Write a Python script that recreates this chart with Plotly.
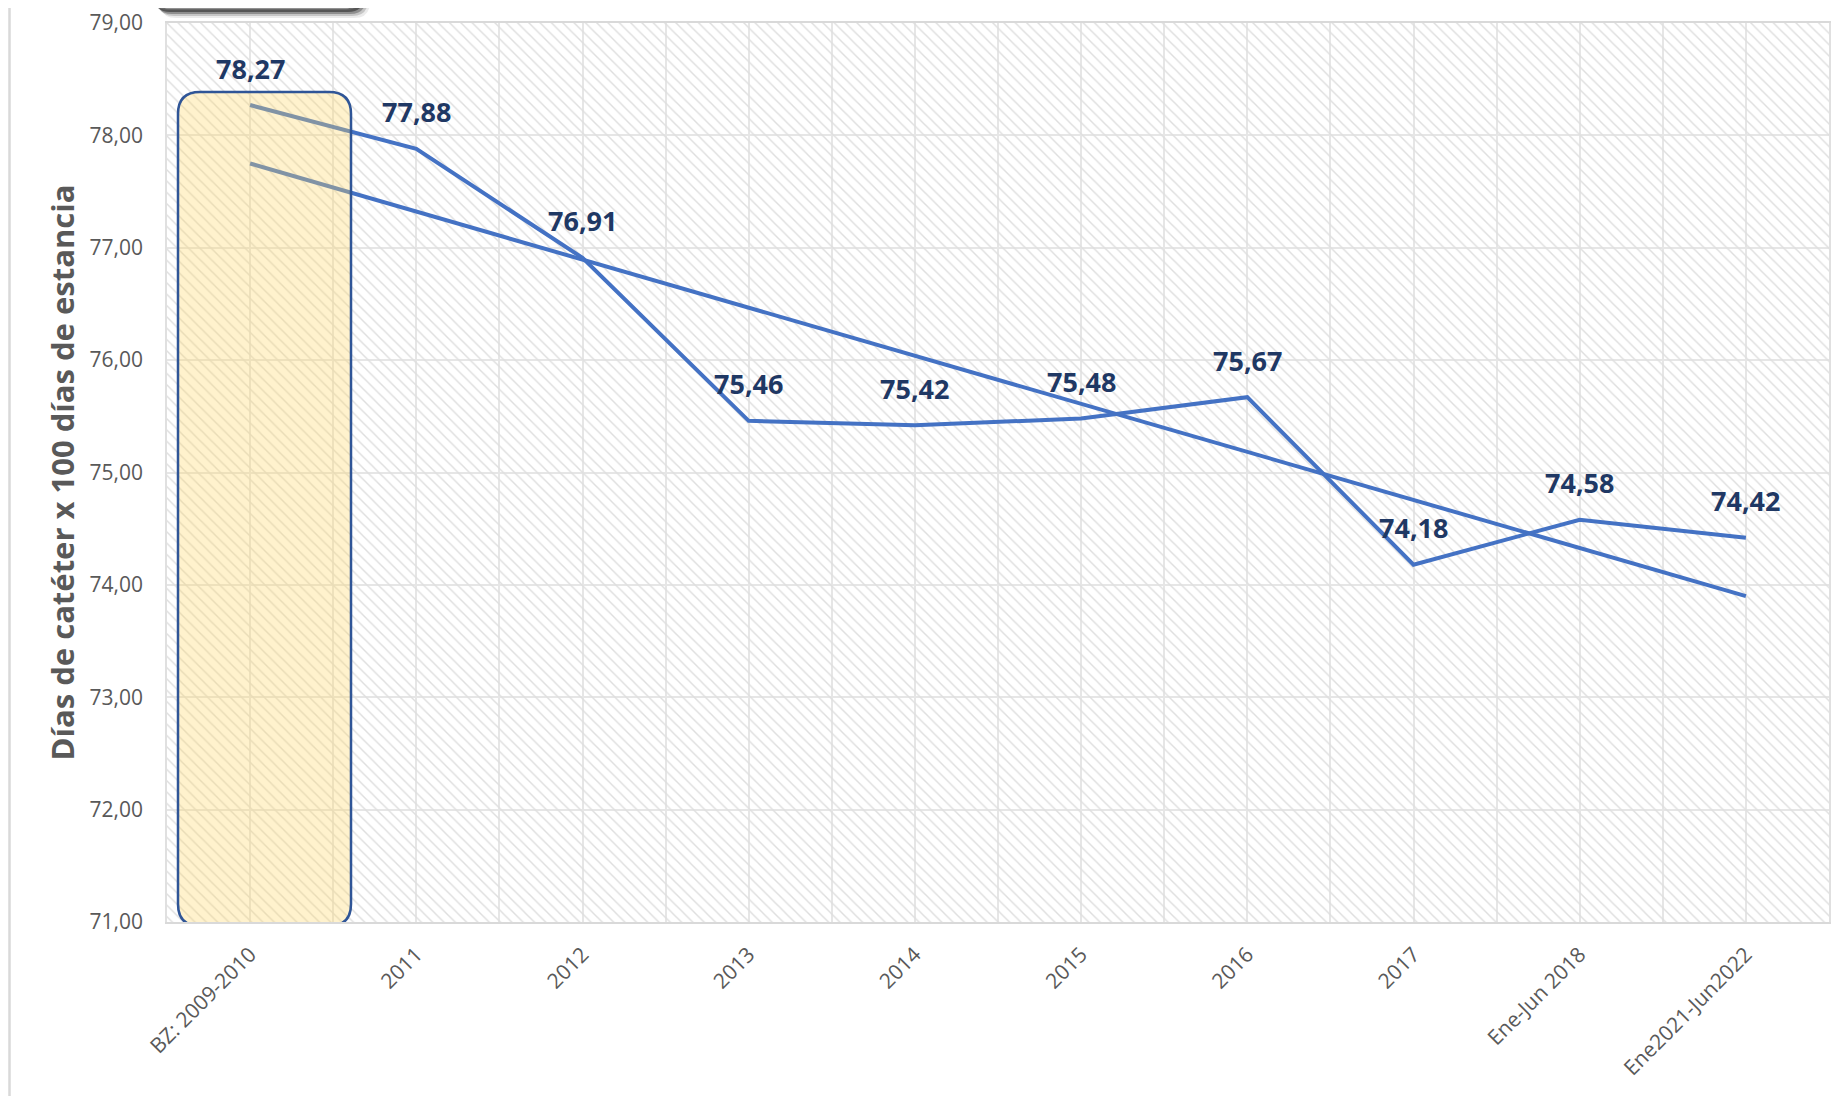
import plotly.graph_objects as go

# ---------------- data ----------------
categories = ["BZ: 2009-2010", "2011", "2012", "2013", "2014", "2015", "2016",
              "2017", "Ene-Jun 2018", "Ene2021-Jun2022"]
values = [78.27, 77.88, 76.91, 75.46, 75.42, 75.48, 75.67, 74.18, 74.58, 74.42]
# linear trend line (first and last category)
trend_idx = [0, 9]
trend_values = [77.75, 73.90]
y_ticks = [71, 72, 73, 74, 75, 76, 77, 78, 79]
y_title = "Días de catéter x 100 días de estancia"

# ---------------- layout geometry ----------------
OFF = 8                      # page body margin
W, H = 1845 - OFF, 1096 - OFF
ML, MR, MT, MB = 167 - OFF, 16, 23 - OFF, 174
PW, PH = W - ML - MR, H - MT - MB

def px_x(px):               # screen pixel -> paper x
    return (px - OFF - ML) / PW

def px_y(py):               # screen pixel -> paper y
    return (H - MB - (py - OFF)) / PH

idx = list(range(len(categories)))
BLUE = "#4472C4"
GREY_TXT = "#595959"
NAVY = "#1F3864"
FONT = "Open Sans"

fig = go.Figure()

# hatched plot background
fig.add_trace(go.Bar(
    x=[(idx[0] + idx[-1]) / 2], y=[y_ticks[-1] - y_ticks[0]], base=[y_ticks[0]],
    width=[len(idx)],
    marker=dict(color="rgba(0,0,0,0)", line=dict(width=0),
                pattern=dict(shape="\\", size=8, solidity=0.18,
                             fgcolor="#DEDEDE", bgcolor="rgba(0,0,0,0)",
                             fillmode="replace")),
    hoverinfo="skip", showlegend=False))

# trend line
fig.add_trace(go.Scatter(x=trend_idx, y=trend_values, mode="lines",
                         line=dict(color=BLUE, width=4), showlegend=False,
                         hoverinfo="skip"))
# main series
fig.add_trace(go.Scatter(x=idx, y=values, mode="lines",
                         line=dict(color=BLUE, width=4), showlegend=False))

# data labels
for i, v in zip(idx, values):
    fig.add_annotation(x=i, y=v, text=f"{v:.2f}".replace(".", ","),
                       showarrow=False, yshift=37, yanchor="middle",
                       font=dict(family=FONT, size=27, color=NAVY, weight="bold"))

# rounded rectangle helper
def rounded(x0, x1, y0, y1, rx, ry):
    return (f"M {x0+rx},{y0} L {x1-rx},{y0} Q {x1},{y0} {x1},{y0+ry} "
            f"L {x1},{y1-ry} Q {x1},{y1} {x1-rx},{y1} "
            f"L {x0+rx},{y1} Q {x0},{y1} {x0},{y1-ry} "
            f"L {x0},{y0+ry} Q {x0},{y0} {x0+rx},{y0} Z")

cat_w = PW / len(idx)
unit_h = PH / (y_ticks[-1] - y_ticks[0])
# highlight box around the baseline category (screen px 178..351 x 92..926)
bx0 = -0.5 + (178 - 167) / cat_w
bx1 = -0.5 + (351 - 167) / cat_w
by0 = y_ticks[0] - (926 - 922) / unit_h
by1 = y_ticks[-1] - (92 - 23) / unit_h
fig.add_shape(type="path", xref="x", yref="y",
              path=rounded(bx0, bx1, by0, by1, 22 / cat_w, 22 / unit_h),
              fillcolor="rgba(255,217,102,0.33)",
              line=dict(color="#2F5597", width=2.5), layer="above")

# top-left cut-off title box with shadow (paper coordinates)
def rounded_paper(px0, px1, py0, py1, r):
    x0, x1 = px_x(px0), px_x(px1)
    y0, y1 = px_y(py1), px_y(py0)
    return rounded(x0, x1, y0, y1, r / PW, r / PH)

for dx, dy, a in [(8, 9, 0.08), (6, 7, 0.16), (4, 5, 0.28), (2, 3, 0.4)]:
    fig.add_shape(type="path", xref="paper", yref="paper",
                  path=rounded_paper(152 + dx, 362 + dx, -60 + dy, 9 + dy, 16),
                  fillcolor=f"rgba(0,0,0,{a})", line=dict(width=0), layer="above")
fig.add_shape(type="path", xref="paper", yref="paper",
              path=rounded_paper(152, 362, -60, 9, 16),
              fillcolor="white", line=dict(color="#6E6E6E", width=1.5), layer="above")

# chart left border (as far left as the figure allows)
fig.add_shape(type="line", xref="paper", yref="paper",
              x0=px_x(9.5), x1=px_x(9.5), y0=px_y(1100), y1=px_y(-5),
              line=dict(color="#D9D9D9", width=2.5))

fig.update_layout(
    width=W, height=H,
    margin=dict(l=ML, r=MR, t=MT, b=MB, autoexpand=False),
    paper_bgcolor="white", plot_bgcolor="white",
    separators=",.",
    bargap=0,
    font=dict(family=FONT, color=GREY_TXT),
    xaxis=dict(range=[-0.5, len(idx) - 0.5], tickmode="array", tickvals=idx,
               ticktext=categories, tickangle=-45,
               tickfont=dict(size=21, color=GREY_TXT, family=FONT),
               showgrid=True, gridcolor="#E6E6E6", gridwidth=1.5,
               minor=dict(tickmode="linear", tick0=-0.5, dtick=1, showgrid=True,
                          gridcolor="#E6E6E6", gridwidth=1.5),
               showline=True, linecolor="#D9D9D9", linewidth=2, mirror=True,
               ticks="", zeroline=False, ticklabelstandoff=10, fixedrange=True),
    yaxis=dict(range=[y_ticks[0], y_ticks[-1]], tickmode="array", tickvals=y_ticks,
               tickformat=".2f",
               tickfont=dict(size=21, color=GREY_TXT, family=FONT),
               showgrid=True, gridcolor="#E6E6E6", gridwidth=1.5,
               showline=True, linecolor="#E0E0E0", linewidth=1.5, mirror=True,
               ticks="", zeroline=False, ticklabelstandoff=18,
               title=dict(text=y_title, standoff=6,
                          font=dict(size=31, color=GREY_TXT, family=FONT, weight="bold")),
               fixedrange=True),
)

fig.write_html("out.html")
